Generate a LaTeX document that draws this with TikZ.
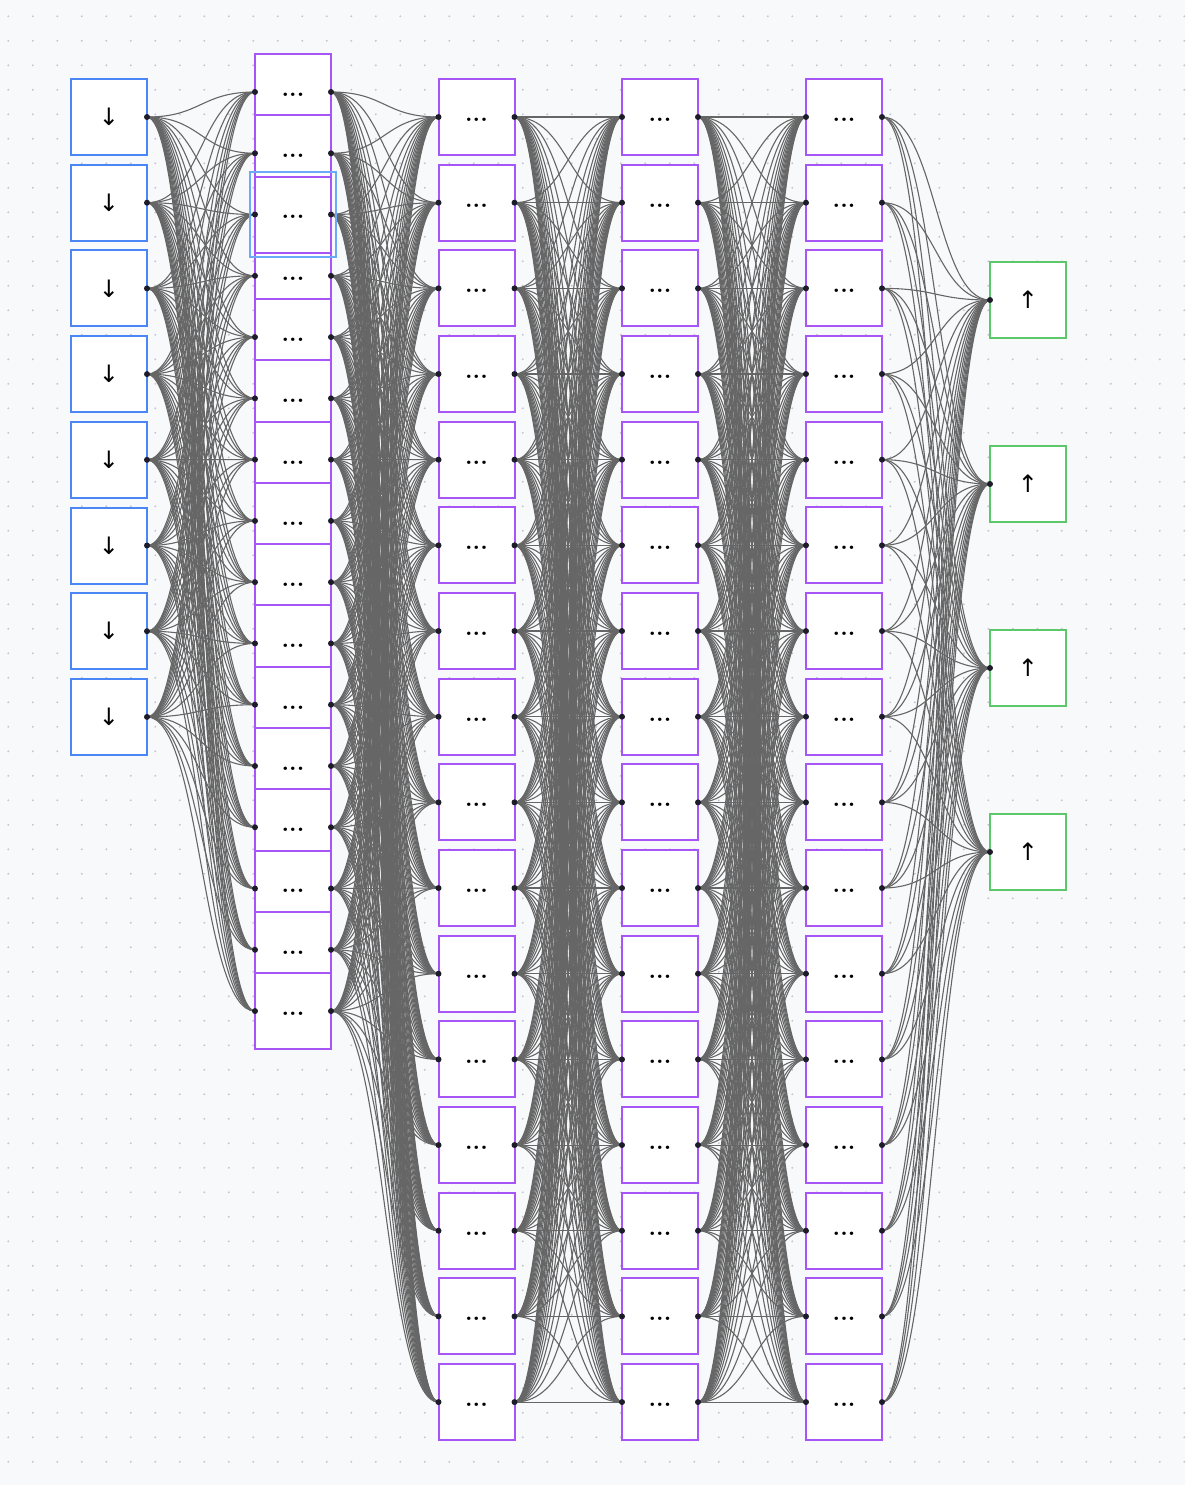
\documentclass[tikz,border=0pt]{standalone}
\usepackage{fontspec}
\usepackage{tikz}
\usetikzlibrary{positioning}

\newfontfamily\arrowfont{DejaVu Sans}

\definecolor{paperbg}{HTML}{F8F9FB}
\definecolor{griddot}{HTML}{C4C7D0}
\definecolor{inblue}{HTML}{4A86F5}
\definecolor{hidpurple}{HTML}{A855F7}
\definecolor{outgreen}{HTML}{5BC86A}
\definecolor{selblue}{HTML}{6AAAF8}
\definecolor{wiregray}{HTML}{666666}
\definecolor{portblack}{HTML}{1C1C2A}

\pgfdeclarelayer{paper}
\pgfdeclarelayer{wires}
\pgfsetlayers{paper,wires,main}

\begin{document}
\begin{tikzpicture}[
    x=0.5pt, y=-0.5pt,
    unit/.style={rectangle, draw, fill=white, minimum size=38pt, inner sep=0pt, outer sep=0pt, line width=1pt},
    inunit/.style={unit, draw=inblue, font=\arrowfont\large},
    hidunit/.style={unit, draw=hidpurple, font=\large\bfseries, text height=0pt, text depth=0pt},
    outunit/.style={unit, draw=outgreen, font=\arrowfont\large},
    selring/.style={rectangle, draw=selblue, minimum width=43pt, minimum height=42.5pt, inner sep=0pt, line width=1pt},
    wire/.style={draw=wiregray, line width=0.55pt},
    portdot/.style={fill=portblack}
]

% Paper and dot grid
\begin{pgfonlayer}{paper}
\fill[paperbg] (0,0) rectangle (1185,1485);
\foreach \i in {0,...,48}
  \foreach \j in {0,...,59}
    \fill[griddot] ({8.3+24.5*\i},{16.3+24.5*\j}) circle (0.55pt);
\end{pgfonlayer}
\useasboundingbox (0,0) rectangle (1185,1485);

% Input layer
\foreach \k in {1,...,8}
  \node[inunit] (in\k) at (109,{117+85.7*(\k-1)}) {↓};

% Hidden layer 1 (stacked, selected unit drawn last)
\foreach \k in {1,2,4,5,6,7,8,9,10,11,12,13,14,15,16}
  \node[hidunit] (a\k) at (293,{92+61.27*(\k-1)}) {\raisebox{-2.2pt}{...}};
\node[hidunit] (a3) at (293,214.5) {\raisebox{-2.2pt}{...}};
\node[selring] (sel) at (a3) {};

% Hidden layers 2-4
\foreach \L/\X in {b/476.5, c/660, d/844}
  \foreach \k in {1,...,16}
    \node[hidunit] (\L\k) at (\X,{117+85.67*(\k-1)}) {\raisebox{-2.2pt}{...}};

% Output layer
\foreach \k in {1,...,4}
  \node[outunit] (out\k) at (1028,{300+184*(\k-1)}) {↑};

% Connections
\begin{pgfonlayer}{wires}
\foreach \i in {1,...,8}
  \foreach \j in {1,...,16}
    \draw[wire] (in\i.east) .. controls +(54,0) and +(-54,0) .. (a\j.west);
\foreach \S/\T in {a/b, b/c, c/d}
  \foreach \i in {1,...,16}
    \foreach \j in {1,...,16}
      \draw[wire] (\S\i.east) .. controls +(54,0) and +(-54,0) .. (\T\j.west);
\foreach \i in {1,...,16}
  \foreach \j in {1,...,4}
    \draw[wire] (d\i.east) .. controls +(54,0) and +(-54,0) .. (out\j.west);
\end{pgfonlayer}

% Ports
\foreach \k in {1,...,8}
  \fill[portdot] (in\k.east) circle (1.5pt);
\foreach \L in {a,b,c,d}
  \foreach \k in {1,...,16} {
    \fill[portdot] (\L\k.west) circle (1.5pt);
    \fill[portdot] (\L\k.east) circle (1.5pt);
  }
\foreach \k in {1,...,4}
  \fill[portdot] (out\k.west) circle (1.5pt);

\end{tikzpicture}
\end{document}
